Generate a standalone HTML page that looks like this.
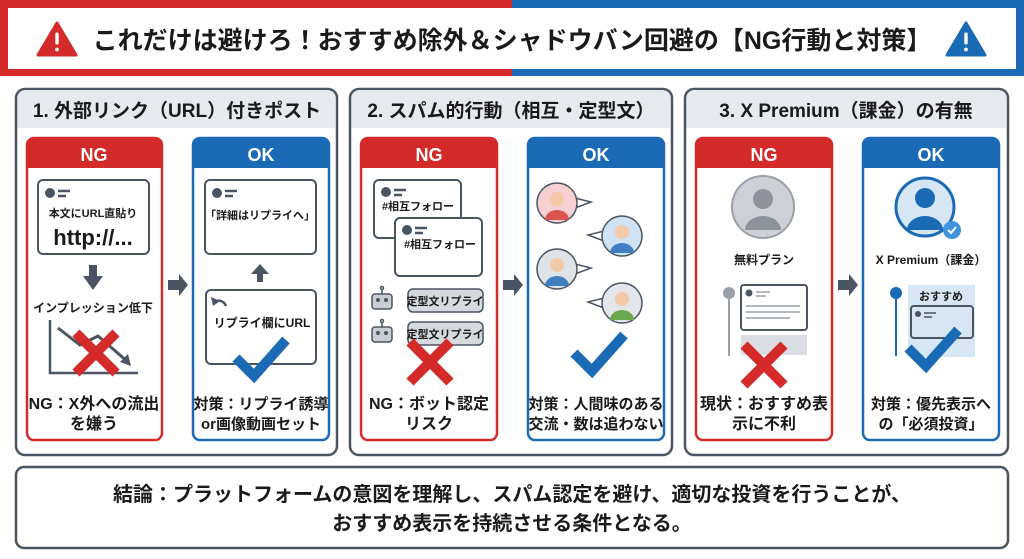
<!DOCTYPE html>
<html><head><meta charset="utf-8"><style>
html,body{margin:0;padding:0;width:1024px;height:559px;overflow:hidden;background:#fff}
svg{display:block}
text{font-family:"Liberation Sans","Noto Sans CJK JP",sans-serif;font-weight:bold;fill:#1a1a1a}
</style></head><body>
<svg width="1024" height="559" viewBox="0 0 1024 559" xmlns="http://www.w3.org/2000/svg">
<defs>
<g id="warn"><path d="M0,-17 L19,15 L-19,15 Z" stroke-linejoin="round" stroke-width="3"/><rect x="-2.2" y="-8" width="4.4" height="13" rx="2" fill="#fff"/><circle cx="0" cy="9.5" r="2.4" fill="#fff"/></g>
<g id="xmark"><path d="M-20,-20 L20,20 M20,-20 L-20,20" stroke="#d42a2a" stroke-width="10"/></g>
<g id="check"><path d="M-24,-2 L-6,16 L26,-20" stroke="#1a6ab5" stroke-width="10" fill="none" stroke-linejoin="miter"/></g>
<g id="arr"><path d="M-9,-5 H2 V-11 L11,0 L2,11 V5 H-9 Z" fill="#4a5563"/></g>
<g id="postHead"><circle cx="10" cy="10" r="5" fill="#4a5563"/><path d="M18,8 H30 M18,13 H26" stroke="#4a5563" stroke-width="2.5"/></g>
</defs>
<rect x="0" y="0" width="512" height="76" fill="#d42a2a"/>
<rect x="512" y="0" width="512" height="76" fill="#1a6ab5"/>
<rect x="8" y="8" width="1008" height="61" fill="#fff"/>
<use href="#warn" x="57" y="40" fill="#d42a2a" stroke="#d42a2a"/>
<use href="#warn" x="966" y="40" fill="#1a6ab5" stroke="#1a6ab5"/>
<text x="512" y="49" font-size="25" text-anchor="middle">これだけは避けろ！おすすめ除外＆シャドウバン回避の【NG行動と対策】</text>

<g stroke="#4a5563" stroke-width="2.5">
<rect x="16" y="89" width="321" height="366" rx="9" fill="#fff"/>
<rect x="350" y="89" width="322" height="366" rx="9" fill="#fff"/>
<rect x="685" y="89" width="323" height="366" rx="9" fill="#fff"/>
</g>
<path d="M17.5,128 V98 a8,8 0 0 1 8,-8 H327 a8,8 0 0 1 8,8 V128 Z" fill="#e6e9ee"/>
<path d="M351.5,128 V98 a8,8 0 0 1 8,-8 H662 a8,8 0 0 1 8,8 V128 Z" fill="#e6e9ee"/>
<path d="M686.5,128 V98 a8,8 0 0 1 8,-8 H998 a8,8 0 0 1 8,8 V128 Z" fill="#e6e9ee"/>
<text x="177" y="117" font-size="19" text-anchor="middle">1. 外部リンク（URL）付きポスト</text>
<text x="511" y="117" font-size="19" text-anchor="middle">2. スパム的行動（相互・定型文）</text>
<text x="846" y="117" font-size="19" text-anchor="middle">3. X Premium（課金）の有無</text>

<g stroke-width="2.5" fill="#fff">
<rect x="27" y="138" width="135" height="302" rx="7" stroke="#d42a2a"/>
<rect x="193" y="138" width="136" height="302" rx="7" stroke="#1a6ab5"/>
<rect x="361" y="138" width="136" height="302" rx="7" stroke="#d42a2a"/>
<rect x="528" y="138" width="136" height="302" rx="7" stroke="#1a6ab5"/>
<rect x="696" y="138" width="136" height="302" rx="7" stroke="#d42a2a"/>
<rect x="863" y="138" width="136" height="302" rx="7" stroke="#1a6ab5"/>
</g>
<g>
<path d="M27,168 V145 a7,7 0 0 1 7,-7 H155 a7,7 0 0 1 7,7 V168 Z" fill="#d42a2a"/>
<path d="M193,168 V145 a7,7 0 0 1 7,-7 H322 a7,7 0 0 1 7,7 V168 Z" fill="#1a6ab5"/>
<path d="M361,168 V145 a7,7 0 0 1 7,-7 H490 a7,7 0 0 1 7,7 V168 Z" fill="#d42a2a"/>
<path d="M528,168 V145 a7,7 0 0 1 7,-7 H657 a7,7 0 0 1 7,7 V168 Z" fill="#1a6ab5"/>
<path d="M696,168 V145 a7,7 0 0 1 7,-7 H825 a7,7 0 0 1 7,7 V168 Z" fill="#d42a2a"/>
<path d="M863,168 V145 a7,7 0 0 1 7,-7 H992 a7,7 0 0 1 7,7 V168 Z" fill="#1a6ab5"/>
</g>
<g font-size="18" text-anchor="middle">
<text x="94" y="161" style="fill:#fff">NG</text>
<text x="261" y="161" style="fill:#fff">OK</text>
<text x="429" y="161" style="fill:#fff">NG</text>
<text x="596" y="161" style="fill:#fff">OK</text>
<text x="764" y="161" style="fill:#fff">NG</text>
<text x="931" y="161" style="fill:#fff">OK</text>
</g>
<use href="#arr" x="177" y="285"/>
<use href="#arr" x="512" y="285"/>
<use href="#arr" x="847" y="285"/>

<rect x="38" y="180" width="111" height="74" rx="5" fill="#fff" stroke="#4a5563" stroke-width="2"/>
<use href="#postHead" x="40" y="183"/>
<text x="93" y="217" font-size="11" text-anchor="middle">本文にURL直貼り</text>
<text x="93" y="245" font-size="22" text-anchor="middle">http://...</text>
<path d="M89,265 H97 V276 H103 L93,290 L83,276 H89 Z" fill="#4a5563"/>
<text x="93" y="312" font-size="12" text-anchor="middle">インプレッション低下</text>
<path d="M50,320 V373 H138" stroke="#4a5563" stroke-width="2.5" fill="none"/>
<path d="M58,328 L80,345 L98,336 L128,362" stroke="#4a5563" stroke-width="3" fill="none"/>
<path d="M120,362 L131,366 L128,354 Z" fill="#4a5563"/>
<use href="#xmark" x="96" y="353"/>
<text x="94" y="409" font-size="16" text-anchor="middle">NG：X外への流出</text>
<text x="94" y="429" font-size="16" text-anchor="middle">を嫌う</text>

<rect x="205" y="180" width="111" height="74" rx="5" fill="#fff" stroke="#4a5563" stroke-width="2"/>
<use href="#postHead" x="207" y="183"/>
<text x="260" y="219" font-size="11" text-anchor="middle">「詳細はリプライへ」</text>
<path d="M257,282 V274 H251 L260,264 L269,274 H263 V282 Z" fill="#4a5563"/>
<rect x="206" y="290" width="110" height="74" rx="5" fill="#fff" stroke="#4a5563" stroke-width="2"/>
<path d="M226,306 a8,8 0 0 0 -12,-4" stroke="#4a5563" stroke-width="2.5" fill="none"/>
<path d="M211,297 L213,306 L220,301 Z" fill="#4a5563"/>
<text x="262" y="327" font-size="12" text-anchor="middle">リプライ欄にURL</text>
<use href="#check" x="260" y="360"/>
<text x="261" y="409" font-size="15" text-anchor="middle">対策：リプライ誘導</text>
<text x="261" y="429" font-size="15" text-anchor="middle">or画像動画セット</text>

<rect x="374" y="180" width="87" height="58" rx="5" fill="#fff" stroke="#4a5563" stroke-width="2"/>
<use href="#postHead" x="376" y="182"/>
<text x="418" y="210" font-size="11" text-anchor="middle">#相互フォロー</text>
<rect x="395" y="218" width="87" height="58" rx="5" fill="#fff" stroke="#4a5563" stroke-width="2"/>
<use href="#postHead" x="397" y="220"/>
<text x="440" y="248" font-size="11" text-anchor="middle">#相互フォロー</text>
<g stroke="#4a5563" stroke-width="1.5">
<rect x="372" y="294" width="20" height="15" rx="3" fill="#c9ced5"/>
<line x1="382" y1="294" x2="382" y2="289"/><circle cx="382" cy="288" r="1.5" fill="#fff"/>
<rect x="372" y="327" width="20" height="15" rx="3" fill="#c9ced5"/>
<line x1="382" y1="327" x2="382" y2="322"/><circle cx="382" cy="321" r="1.5" fill="#fff"/>
<rect x="408" y="289" width="75" height="23" rx="5" fill="#d6d9de"/>
<rect x="408" y="322" width="75" height="23" rx="5" fill="#d6d9de"/>
</g>
<circle cx="378" cy="300" r="2" fill="#4a5563"/><circle cx="386" cy="300" r="2" fill="#4a5563"/>
<circle cx="378" cy="333" r="2" fill="#4a5563"/><circle cx="386" cy="333" r="2" fill="#4a5563"/>
<text x="445" y="305" font-size="11" text-anchor="middle">定型文リプライ</text>
<text x="445" y="338" font-size="11" text-anchor="middle">定型文リプライ</text>
<use href="#xmark" x="430" y="362"/>
<text x="429" y="409" font-size="16" text-anchor="middle">NG：ボット認定</text>
<text x="429" y="429" font-size="16" text-anchor="middle">リスク</text>

<!-- panel 2 OK avatars with bubble tails -->
<g stroke="#4a5563" stroke-width="1.5">
<path d="M575,198 L591,202 L575,208 Z" fill="#fff"/>
<path d="M604,231 L588,235 L604,241 Z" fill="#fff"/>
<path d="M575,264 L591,268 L575,274 Z" fill="#fff"/>
<path d="M604,298 L588,302 L604,308 Z" fill="#fff"/>
<circle cx="557" cy="203" r="20" fill="#f6cfd2"/>
<circle cx="622" cy="236" r="20" fill="#cfe3f4"/>
<circle cx="557" cy="269" r="20" fill="#dfe3e8"/>
<circle cx="622" cy="303" r="20" fill="#e3e6ea"/>
</g>
<g fill="#f3c9a8">
<circle cx="557" cy="199" r="7"/><circle cx="622" cy="232" r="7"/><circle cx="557" cy="265" r="7"/><circle cx="622" cy="299" r="7"/>
</g>
<path d="M545,220 a12,10 0 0 1 24,0 Z" fill="#d9534f"/>
<path d="M610,253 a12,10 0 0 1 24,0 Z" fill="#3f7fc1"/>
<path d="M545,286 a12,10 0 0 1 24,0 Z" fill="#3f7fc1"/>
<path d="M610,320 a12,10 0 0 1 24,0 Z" fill="#6aa84f"/>
<use href="#check" x="598" y="355"/>
<text x="596" y="409" font-size="15" text-anchor="middle">対策：人間味のある</text>
<text x="596" y="429" font-size="15" text-anchor="middle">交流・数は追わない</text>

<circle cx="763" cy="207" r="31" fill="#cdd1d6" stroke="#9aa0a8" stroke-width="2"/>
<circle cx="763" cy="199" r="10" fill="#8d939b"/>
<path d="M745,230 a18,14 0 0 1 36,0 Z" fill="#8d939b"/>
<text x="764" y="264" font-size="12" text-anchor="middle">無料プラン</text>
<circle cx="729" cy="293" r="6" fill="#9aa0a8"/>
<line x1="729" y1="299" x2="729" y2="356" stroke="#9aa0a8" stroke-width="2"/>
<rect x="741" y="285" width="66" height="45" rx="3" fill="#fff" stroke="#4a5563" stroke-width="2"/>
<circle cx="749" cy="293" r="3.5" fill="#4a5563"/>
<path d="M756,292 H770 M756,296 H766 M746,306 H800 M746,312 H800 M746,318 H790" stroke="#9aa0a8" stroke-width="1.5"/>
<rect x="741" y="335" width="66" height="20" fill="#dadde1"/>
<use href="#xmark" x="764" y="365"/>
<text x="764" y="409" font-size="16" text-anchor="middle">現状：おすすめ表</text>
<text x="764" y="429" font-size="16" text-anchor="middle">示に不利</text>

<circle cx="925" cy="207" r="29" fill="#d6e6f5" stroke="#1a6ab5" stroke-width="3"/>
<circle cx="925" cy="198" r="10" fill="#1a6ab5"/>
<path d="M907,230 a18,14 0 0 1 36,0 Z" fill="#1a6ab5"/>
<circle cx="952" cy="230" r="9" fill="#3d93dc"/>
<path d="M948,230 l3,3 l5,-6" stroke="#fff" stroke-width="2" fill="none"/>
<text x="931" y="264" font-size="12" text-anchor="middle">X Premium（課金）</text>
<circle cx="896" cy="293" r="6" fill="#1a6ab5"/>
<line x1="896" y1="299" x2="896" y2="356" stroke="#1a6ab5" stroke-width="2"/>
<rect x="908" y="285" width="67" height="72" fill="#d6e6f5"/>
<text x="941" y="300" font-size="11" text-anchor="middle">おすすめ</text>
<rect x="911" y="306" width="62" height="32" rx="3" fill="#d6e6f5" stroke="#4a5563" stroke-width="2"/>
<circle cx="918" cy="314" r="3" fill="#4a5563"/>
<path d="M924,313 H936 M924,317 H932" stroke="#4a5563" stroke-width="1.5"/>
<use href="#check" x="932" y="350"/>
<text x="931" y="409" font-size="15" text-anchor="middle">対策：優先表示へ</text>
<text x="931" y="429" font-size="15" text-anchor="middle">の「必須投資」</text>

<rect x="16" y="467" width="992" height="81" rx="8" fill="#fff" stroke="#4a5563" stroke-width="2.5"/>
<text x="512" y="501" font-size="20" text-anchor="middle">結論：プラットフォームの意図を理解し、スパム認定を避け、適切な投資を行うことが、</text>
<text x="512" y="530" font-size="20" text-anchor="middle">おすすめ表示を持続させる条件となる。</text>
</svg>
</body></html>
